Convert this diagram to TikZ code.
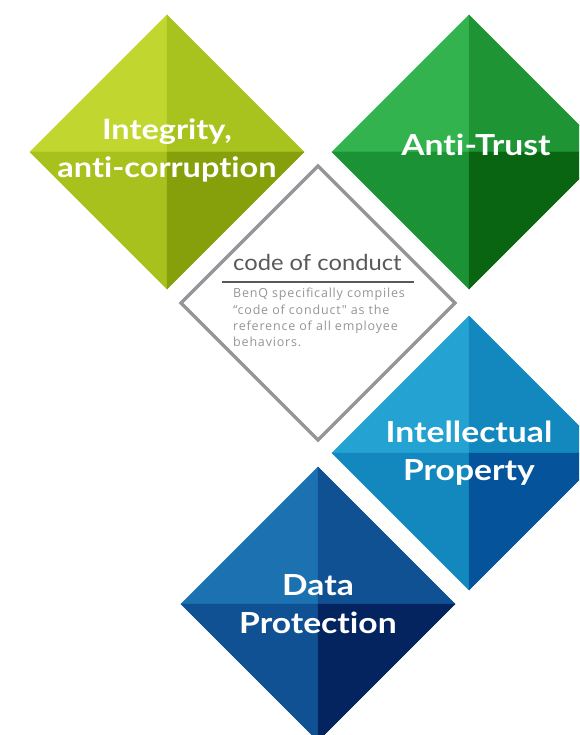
\documentclass[tikz,border=0pt]{standalone}
\usepackage{fontspec}
\setmainfont{Lato}[Ligatures={TeX,NoCommon}]
\newfontfamily\titlefont{Lato}[Ligatures=NoCommon, FakeStretch=1.16]
\newfontfamily\headfont{Lato}[Ligatures=NoCommon, FakeStretch=1.08]
\newfontfamily\bodyfont{Open Sans}[LetterSpace=6.5]

\definecolor{igA}{HTML}{C1D72F}
\definecolor{igB}{HTML}{A9C31E}
\definecolor{igC}{HTML}{A9C11C}
\definecolor{igD}{HTML}{86A00B}
\definecolor{atA}{HTML}{33B34E}
\definecolor{atB}{HTML}{1E9435}
\definecolor{atC}{HTML}{1C9236}
\definecolor{atD}{HTML}{0A6512}
\definecolor{ipA}{HTML}{24A3D3}
\definecolor{ipB}{HTML}{1388BF}
\definecolor{ipC}{HTML}{1388BF}
\definecolor{ipD}{HTML}{04539B}
\definecolor{dpA}{HTML}{1C72B1}
\definecolor{dpB}{HTML}{0F5193}
\definecolor{dpC}{HTML}{0F5193}
\definecolor{dpD}{HTML}{03245F}
\definecolor{framegray}{HTML}{939598}
\definecolor{headgray}{HTML}{58595B}
\definecolor{bodygray}{HTML}{939598}

\begin{document}
\begin{tikzpicture}[x=1pt, y=-1pt,
    face/.style={fill=#1, draw=#1, line width=0.4pt},
    title/.style={text=white, font=\titlefont\fontsize{29}{38}\selectfont\bfseries, align=center, inner sep=0pt}]
    \useasboundingbox (0,0) rectangle (579,735);
    \clip (0,0) rectangle (579,735);

    \coordinate (I) at (167,152);
    \coordinate (A) at (469,152);
    \coordinate (C) at (318,303);
    \coordinate (P) at (469,453);
    \coordinate (D) at (318,604);

    % integrity
    \fill[face=igA] (I) -- ++(-137,0) -- ++(137,-137) -- cycle;
    \fill[face=igB] (I) -- ++(0,-137) -- ++(137,137) -- cycle;
    \fill[face=igC] (I) -- ++(-137,0) -- ++(137,137) -- cycle;
    \fill[face=igD] (I) -- ++(137,0) -- ++(-137,137) -- cycle;
    % anti-trust
    \fill[face=atA] (A) -- ++(-137,0) -- ++(137,-137) -- cycle;
    \fill[face=atB] (A) -- ++(0,-137) -- ++(137,137) -- cycle;
    \fill[face=atC] (A) -- ++(-137,0) -- ++(137,137) -- cycle;
    \fill[face=atD] (A) -- ++(137,0) -- ++(-137,137) -- cycle;
    % intellectual property
    \fill[face=ipA] (P) -- ++(-137,0) -- ++(137,-137) -- cycle;
    \fill[face=ipB] (P) -- ++(0,-137) -- ++(137,137) -- cycle;
    \fill[face=ipC] (P) -- ++(-137,0) -- ++(137,137) -- cycle;
    \fill[face=ipD] (P) -- ++(137,0) -- ++(-137,137) -- cycle;
    % data protection
    \fill[face=dpA] (D) -- ++(-137,0) -- ++(137,-137) -- cycle;
    \fill[face=dpB] (D) -- ++(0,-137) -- ++(137,137) -- cycle;
    \fill[face=dpC] (D) -- ++(-137,0) -- ++(137,137) -- cycle;
    \fill[face=dpD] (D) -- ++(137,0) -- ++(-137,137) -- cycle;

    \draw[framegray, line width=3.2pt] (C) ++(-137,0) -- ++(137,-137) -- ++(137,137) -- ++(-137,137) -- cycle;

    \node[title, font=\titlefont\fontsize{28}{38}\selectfont\bfseries] (integrity) at (167,150) {Integrity,\\anti-corruption};
    \node[title, anchor=base] (antitrust) at (476,156) {Anti-Trust};
    \node[title] (ip) at (469,453) {Intellectual\\Property};
    \node[title] (data) at (318,604) {Data\\Protection};

    \node[anchor=base west, inner sep=0pt, text=headgray, font=\headfont\fontsize{22}{24}\selectfont] (code) at (233,270) {code of conduct};
    \coordinate (ruleL) at (222,282);
    \coordinate (ruleR) at (414,282);
    \draw[headgray, line width=2pt] (ruleL) -- (ruleR);
    \node[anchor=north west, inner sep=0pt, text=bodygray, align=left,
        font=\bodyfont\fontsize{12.5}{16.4}\selectfont] (about) at (233,288)
        {BenQ specifically compiles\\“code of conduct" as the\\reference of all employee\\behaviors.};
\end{tikzpicture}
\end{document}
